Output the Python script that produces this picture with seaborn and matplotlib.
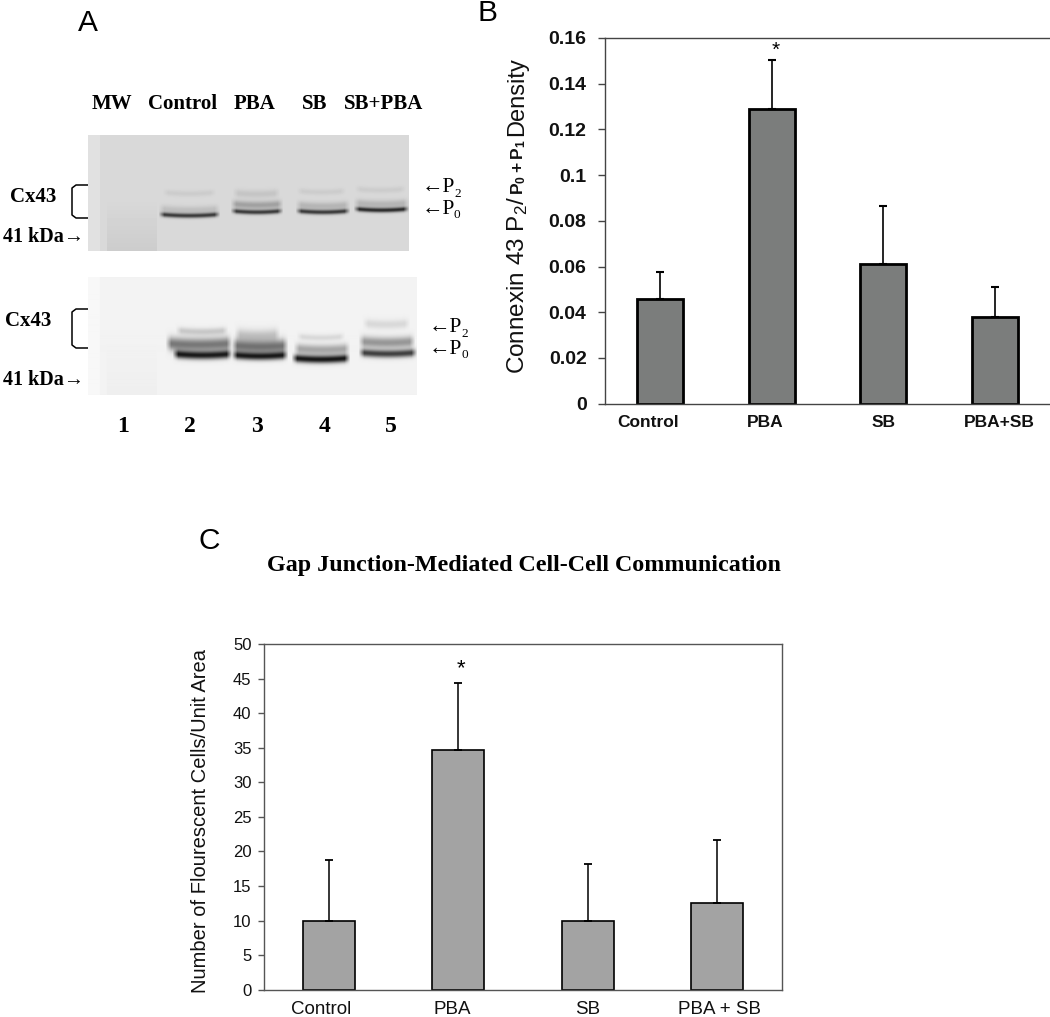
import numpy as np
import pandas as pd
import matplotlib
matplotlib.use("Agg")
import matplotlib.pyplot as plt
import seaborn as sns

# ---------- data ----------
cats_b = ["Control", "PBA", "SB", "PBA+SB"]
vals_b = [0.046, 0.129, 0.061, 0.038]
errs_b = [0.0117, 0.0215, 0.0255, 0.0132]
label_shift_b = [-0.11, -0.06, 0.0, 0.04]

cats_c = ["Control", "PBA", "SB", "PBA + SB"]
vals_c = [9.9, 34.6, 10.0, 12.5]
errs_c = [8.9, 9.8, 8.2, 9.1]
label_shift_c = [-0.06, -0.05, 0.0, 0.02]

lane_heads = ["MW", "Control", "PBA", "SB", "SB+PBA"]
lane_head_x = [112, 183, 255, 315, 384]
lane_nums = ["1", "2", "3", "4", "5"]
lane_num_x = [123, 190, 257, 325, 391]

# blot bands: x start, x end, y, darkness, thickness (picture pixels)
bands_top = [
    (158, 220, 214.5, 0.60, 2.4), (158, 220, 209, 0.10, 4), (162, 216, 192.5, 0.05, 3),
    (230, 283, 211, 0.60, 2.4), (230, 283, 204, 0.22, 4), (232, 280, 193, 0.08, 4),
    (295, 350, 211, 0.60, 2.4), (295, 350, 205, 0.14, 4), (296, 346, 191, 0.05, 3),
    (353, 409, 209, 0.66, 2.4), (353, 409, 203, 0.14, 4), (354, 406, 189, 0.05, 3),
]
bands_bottom = [
    (172, 232, 354.5, 0.82, 4.0), (165, 232, 344, 0.48, 6.5), (175, 228, 331, 0.16, 3.5),
    (231, 288, 355.5, 0.80, 3.8), (231, 288, 346, 0.50, 6.5), (234, 280, 335, 0.18, 6),
    (291, 350, 358.5, 0.86, 3.8), (293, 350, 349, 0.30, 5), (296, 345, 337, 0.10, 3),
    (358, 417, 353, 0.70, 3.8), (358, 415, 342, 0.36, 5.5), (362, 410, 324, 0.10, 4.5),
]

# ---------- style ----------
sns.set_theme(style="ticks", rc={"axes.grid": False})
plt.rcParams["font.family"] = ["Liberation Sans", "DejaVu Sans"]
plt.rcParams["mathtext.fontset"] = "custom"
plt.rcParams["mathtext.rm"] = "Liberation Sans"
plt.rcParams["mathtext.bf"] = "Liberation Sans:bold"
plt.rcParams["mathtext.default"] = "rm"

W, H = 1050, 1017
fig = plt.figure(figsize=(W / 100, H / 100), dpi=100, facecolor="white")


def px_axes(l, t, r, b, **kw):
    return fig.add_axes([l / W, 1 - b / H, (r - l) / W, (b - t) / H], **kw)


SERIF = ["Liberation Serif", "DejaVu Serif"]

# ---------- overlay in picture pixels ----------
ov = px_axes(0, 0, W, H)
ov.set_xlim(0, W)
ov.set_ylim(H, 0)
ov.axis("off")


def blot(l, t, r, b, base, bands, mw_dark, left_light):
    ys, xs = np.mgrid[t:b, l:r]
    img = np.full(xs.shape, base, dtype=float)
    img[xs < 100] += left_light
    img -= mw_dark * np.clip((ys - (t + 0.55 * (b - t))) / (0.45 * (b - t)), 0, 1) * ((xs > 106) & (xs < 157))
    for x0, x1, yc, dark, th in bands:
        edge = np.clip((xs - x0) / 6, 0, 1) * np.clip((x1 - xs) / 6, 0, 1)
        mid, half = (x0 + x1) / 2, (x1 - x0) / 2
        bow = 1.5 * (1 - ((xs - mid) / half) ** 2)
        img -= dark * edge * np.exp(-(((ys - yc - bow + 0.8) / th) ** 2))
    ax = px_axes(l, t, r, b)
    ax.imshow(np.clip(img, 0, 1), cmap="gray", vmin=0, vmax=1, aspect="auto", interpolation="bilinear")
    ax.axis("off")


blot(88, 135, 409, 251, 0.85, bands_top, 0.05, 0.03)
blot(88, 277, 417, 395, 0.95, bands_bottom, 0.015, 0.02)

for name, x in zip(lane_heads, lane_head_x):
    ov.text(x, 104, name, family=SERIF, weight="bold", fontsize=15, ha="center", va="center", color="black")
for name, x in zip(lane_nums, lane_num_x):
    ov.text(x, 426, name, family=SERIF, weight="bold", fontsize=17, ha="center", va="center", color="black")

for (tx, ty, ky, bt, bb) in [(33, 197, 237, 185, 218), (28, 321, 380, 309, 348)]:
    ov.text(tx, ty, "Cx43", family=SERIF, weight="bold", fontsize=15, ha="center", va="center", color="black")
    ov.text(84, ky, "41 kDa→", family=SERIF, weight="bold", fontsize=14.5, ha="right", va="center", color="black")
    ov.plot([90, 76, 72, 72, 76, 90], [bt, bt, bt + 3, bb - 3, bb, bb], color="black", lw=1.1)

for (ax0, y2, y0) in [(422, 188, 209), (429, 328, 349)]:
    for y, sub in [(y2, "2"), (y0, "0")]:
        ov.text(ax0, y, "←P", family=SERIF, fontsize=15.5, ha="left", va="center", color="black")
        ov.text(ax0 + 32, y + 6, sub, family=SERIF, fontsize=9.5, ha="left", va="center", color="black")

for letter, x, y in [("A", 88, 23), ("B", 488, 13), ("C", 209, 541)]:
    ov.text(x, y, letter, fontsize=21.5, ha="center", va="center", color="black")

# ---------- panel B ----------
ax_b = px_axes(604.6, 38, 1050.6, 403.7)
df_b = pd.DataFrame({"group": cats_b, "value": vals_b})
sns.barplot(data=df_b, x="group", y="value", ax=ax_b, width=0.41, color="#7b7d7c",
            saturation=1, edgecolor="black", linewidth=2.0, errorbar=None)
ax_b.errorbar(range(4), vals_b, yerr=[[0] * 4, errs_b], fmt="none", ecolor="black",
              elinewidth=1.2, capsize=3, capthick=1.5)
ax_b.set_xlim(-0.5, 3.5)
ax_b.set_ylim(0, 0.16)
ax_b.set_yticks(np.arange(0, 0.161, 0.02))
ax_b.set_yticklabels(["0", "0.02", "0.04", "0.06", "0.08", "0.1", "0.12", "0.14", "0.16"],
                     fontsize=14, fontweight="bold", color="#111111")
ax_b.set_xticks([i + s for i, s in enumerate(label_shift_b)])
ax_b.set_xticklabels(cats_b, fontsize=12.5, fontweight="bold", color="#111111")
ax_b.tick_params(axis="x", length=0, pad=8)
ax_b.tick_params(axis="y", length=5, width=1, color="#444444", pad=8)
ax_b.set_xlabel("")
ax_b.set_ylabel("")
for s in ax_b.spines.values():
    s.set_visible(True)
    s.set_color("#444444")
    s.set_linewidth(1)
ov.text(518, 374, r"Connexin 43 P$_{2}$/", rotation=90, fontsize=17.5, ha="center", va="bottom", color="#111111")
ov.text(519, 195, r"$\mathbf{P_{0}+P_{1}}$", rotation=90, fontsize=12.5, ha="center", va="bottom", color="#111111")
ov.text(517, 136, "Density", rotation=90, fontsize=17, ha="center", va="bottom", color="#111111")
ax_b.text(1.03, 0.1545, "*", fontsize=15, ha="center", va="center", color="black")

# ---------- panel C ----------
ax_c = px_axes(264, 644, 782, 989.7)
df_c = pd.DataFrame({"group": cats_c, "value": vals_c})
sns.barplot(data=df_c, x="group", y="value", ax=ax_c, width=0.405, color="#a3a3a3",
            saturation=1, edgecolor="black", linewidth=1.2, errorbar=None)
ax_c.errorbar(range(4), vals_c, yerr=[[0] * 4, errs_c], fmt="none", ecolor="black",
              elinewidth=1.1, capsize=2.7, capthick=1.3)
ax_c.set_xlim(-0.5, 3.5)
ax_c.set_ylim(0, 50)
ax_c.set_yticks(range(0, 51, 5))
ax_c.set_yticklabels([str(v) for v in range(0, 51, 5)], fontsize=12, color="#111111")
ax_c.set_xticks([i + s for i, s in enumerate(label_shift_c)])
ax_c.set_xticklabels(cats_c, fontsize=13.5, color="#111111")
ax_c.tick_params(axis="x", length=0, pad=8)
ax_c.tick_params(axis="y", length=4, width=1, color="#555555", pad=5)
ax_c.set_xlabel("")
ax_c.set_ylabel("")
for s in ax_c.spines.values():
    s.set_visible(True)
    s.set_color("#555555")
    s.set_linewidth(1)
ov.text(200, 821, "Number of Flourescent Cells/Unit Area", rotation=90, fontsize=14.5,
        ha="center", va="center", color="#111111")
ax_c.text(1.02, 46.5, "*", fontsize=16, ha="center", va="center", color="black")
ov.text(524, 566, "Gap Junction-Mediated Cell-Cell Communication", family=SERIF, weight="bold",
        fontsize=17.3, ha="center", va="center", color="black")

fig.savefig("out.png", dpi=100, facecolor="white")
